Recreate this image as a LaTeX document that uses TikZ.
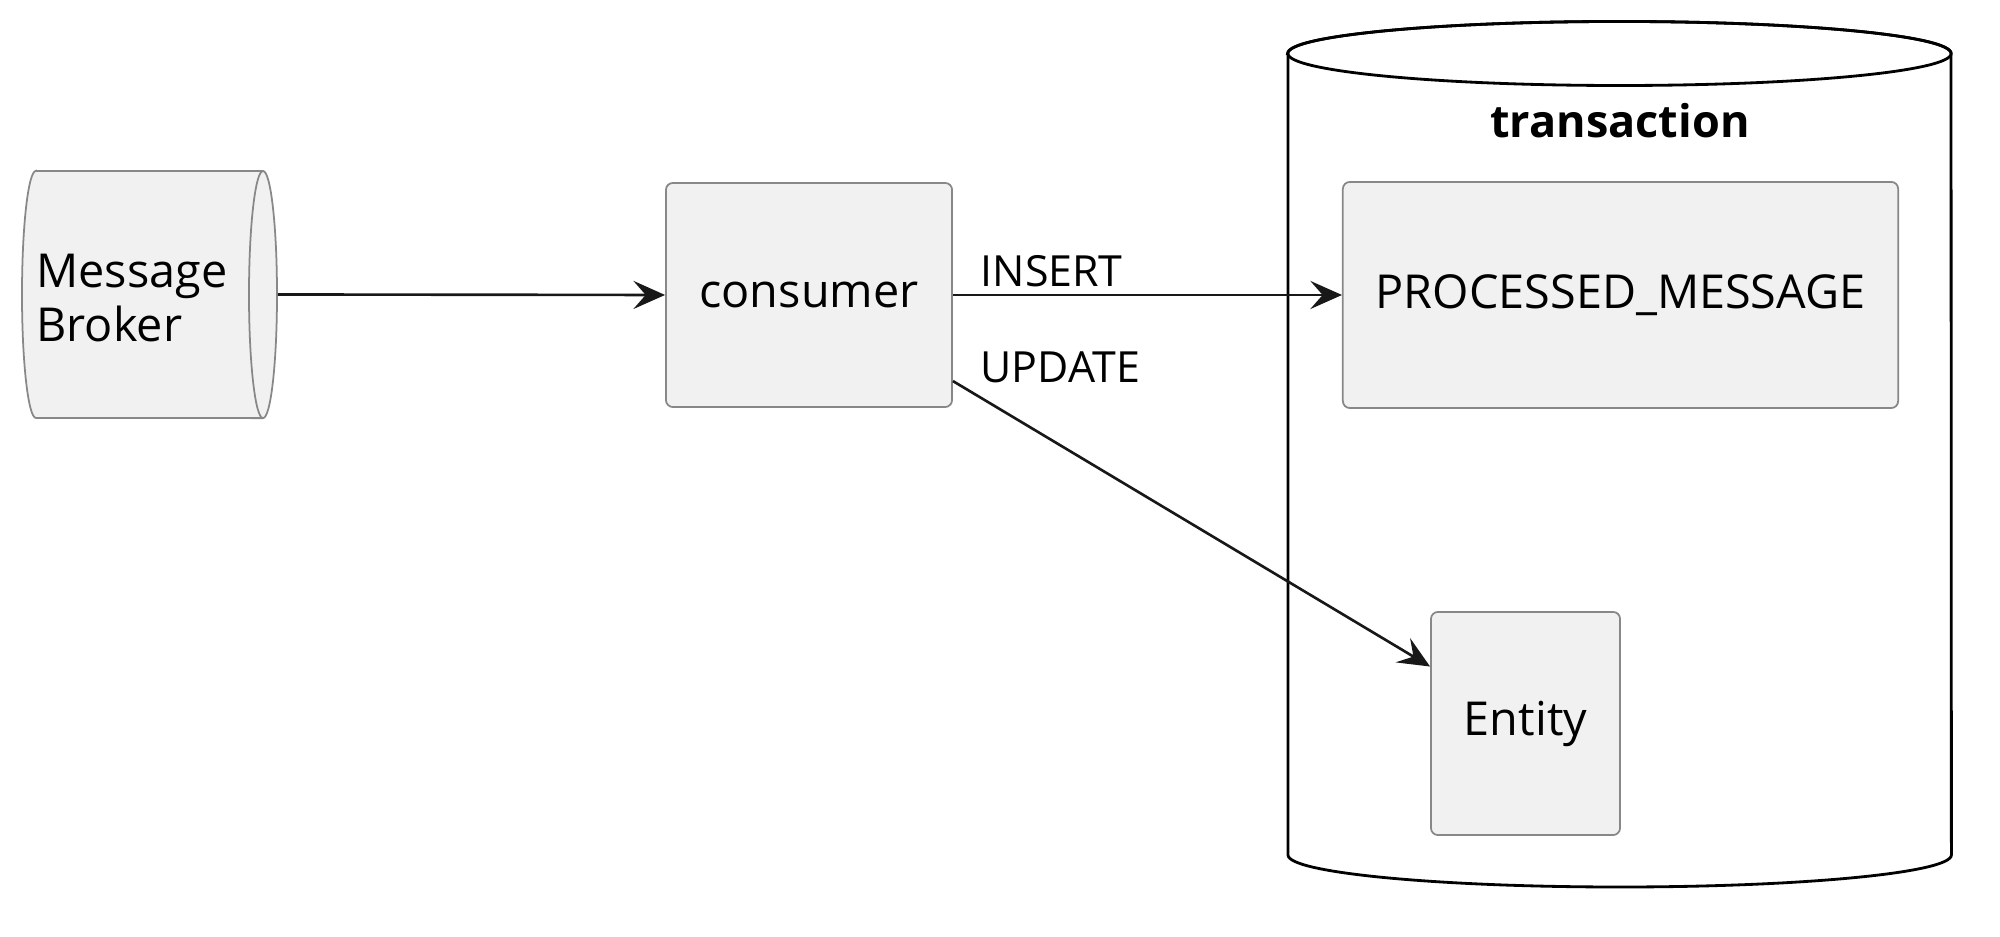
\documentclass[tikz,border=0pt]{standalone}
\usepackage{fontspec}
\setmainfont{Open Sans}
\usepackage{tikz}
\usetikzlibrary{arrows.meta}
\definecolor{boxfill}{HTML}{F1F1F1}
\definecolor{boxline}{HTML}{888888}
\definecolor{flowline}{HTML}{181818}

\begin{document}
\begin{tikzpicture}[x=0.01cm,y=0.01cm,
    box/.style={draw=boxline, fill=boxfill, line width=0.5pt, rounded corners=2pt, inner sep=0pt, font=\fontsize{13.3}{16}\selectfont},
    flow/.style={draw=flowline, line width=0.75pt, -{Stealth[length=9pt,width=8pt,inset=3.5pt]}},
    lbl/.style={inner sep=0pt, font=\fontsize{12.2}{15}\selectfont},
    dbline/.style={draw=black, line width=0.8pt}]
    \useasboundingbox (0,0) rectangle (2000,937);
    \draw[draw=boxline, fill=boxfill, line width=0.5pt] (36,766) -- (263,766) arc[start angle=90, end angle=-90, x radius=0.14cm, y radius=1.235cm] -- (36,519) arc[start angle=270, end angle=90, x radius=0.14cm, y radius=1.235cm] -- cycle;
    \draw[draw=boxline, line width=0.5pt] (263,766) arc[start angle=90, end angle=270, x radius=0.14cm, y radius=1.235cm];
    \node[minimum width=2.55cm, minimum height=2.47cm, inner sep=0pt] (broker) at (149.5,642.5) {};
    \node[align=left, inner sep=0pt, font=\fontsize{13.3}{15.5}\selectfont] (brokertext) at (132,639) {Message\\Broker};
    \draw[dbline, fill=white] (1288,883.5) -- (1288,82) arc[start angle=180, end angle=360, x radius=3.315cm, y radius=0.32cm] -- (1951,883.5) arc[start angle=0, end angle=180, x radius=3.315cm, y radius=0.32cm] -- cycle;
    \draw[dbline] (1619.5,883.5) ellipse[x radius=3.315cm, y radius=0.32cm];
    \node[inner sep=0pt, font=\fontsize{12.8}{15}\selectfont\bfseries] (txlabel) at (1620,816) {transaction};
    \node[box, minimum width=2.86cm, minimum height=2.24cm] (consumer) at (809,642) {consumer};
    \node[box, minimum width=5.55cm, minimum height=2.26cm] (processed) at (1620.5,642) {PROCESSED\_MESSAGE};
    \node[box, minimum width=1.89cm, minimum height=2.23cm] (entity) at (1525.5,213.5) {Entity};
    \draw[flow] (broker.east) -- (consumer.west);
    \draw[flow] (consumer.east) -- (processed.west);
    \draw[flow] (consumer) -- (entity);
    \node[lbl, anchor=base west] (insertlbl) at (980,650) {INSERT};
    \node[lbl, anchor=base west] (updatelbl) at (980,554) {UPDATE};
\end{tikzpicture}
\end{document}
